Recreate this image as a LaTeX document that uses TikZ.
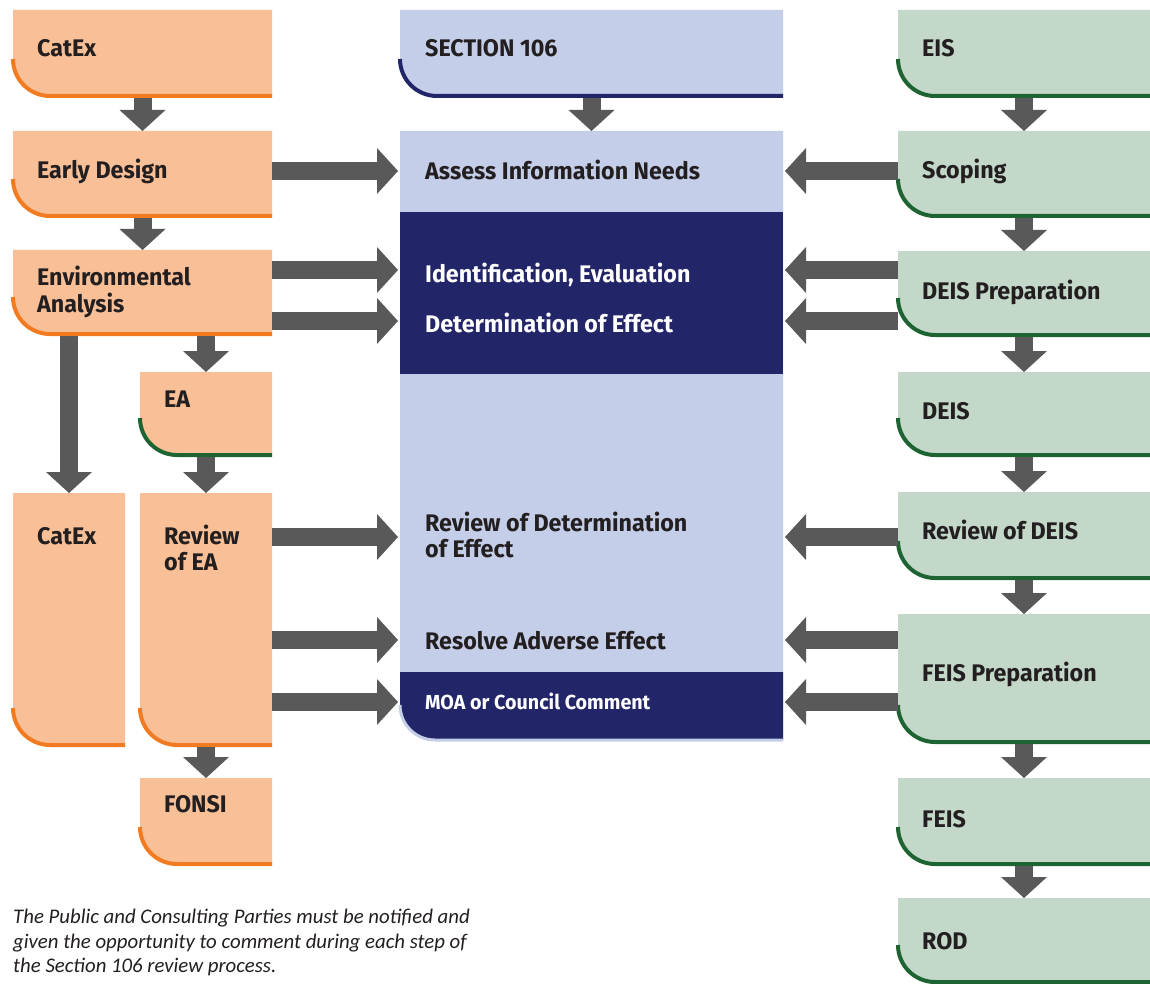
\documentclass[tikz,border=0pt]{standalone}
\usepackage{fontspec}
\newfontfamily\boxfont[FakeStretch=0.97]{Fira Sans}
\newfontfamily\notefont{Carlito}
\usetikzlibrary{arrows.meta}
\definecolor{orfill}{HTML}{F9C097}
\definecolor{orline}{HTML}{F27B22}
\definecolor{blfill}{HTML}{C5CEE8}
\definecolor{navy}{HTML}{222567}
\definecolor{grfill}{HTML}{C3D8C8}
\definecolor{grline}{HTML}{1E6432}
\definecolor{arrowgray}{HTML}{595959}
\definecolor{txt}{HTML}{231F20}
\newcommand\boxradius{37pt}
\tikzset{
  boxshape/.style={anchor=north west, inner sep=0pt, outer sep=0pt, draw=none},
  accent/.style={line width=4pt},
  flow/.style={draw=arrowgray, line width=18pt, -{Triangle[width=46pt,length=21pt,line width=0pt]}},
  lbl/.style={anchor=base west, inner sep=0pt, text=txt, font=\boxfont\bfseries\fontsize{24}{26}\selectfont},
  wlbl/.style={lbl, text=white},
  moalbl/.style={lbl, text=white, font=\boxfont\bfseries\fontsize{20.3}{22}\selectfont},
  note/.style={anchor=north west, inner sep=0pt, align=left, text=txt, font=\notefont\itshape\fontsize{20.8}{24.5}\selectfont},
}
% #1 name, #2 x, #3 y, #4 width, #5 height, #6 fill, #7 accent colour
\newcommand\stagebox[7]{%
  \node[boxshape, minimum width=#4pt, minimum height=#5pt] (#1) at (#2,#3) {};
  \fill[#6] (#1.north west) -- (#1.north east) -- (#1.south east)
    -- ([xshift=\boxradius]#1.south west) arc[start angle=270, end angle=180, radius=\boxradius] -- cycle;
  \draw[accent, #7] ([yshift=\boxradius]#1.south west) arc[start angle=180, end angle=270, radius=\boxradius] -- (#1.south east);
}
\newcommand\twolines[2]{\begin{tabular}[t]{@{}l@{}}#1\\#2\end{tabular}}
\begin{document}
\begin{tikzpicture}[x=1pt, y=-1pt]
\useasboundingbox[fill=white] (0,0) rectangle (1150,984);

% ---- left column
\stagebox{catex1}{13}{10}{259}{86}{orfill}{orline}
\stagebox{early}{13}{131}{259}{85}{orfill}{orline}
\stagebox{env}{13}{250}{259}{84}{orfill}{orline}
\stagebox{ea}{140}{372}{132}{83}{orfill}{grline}
\stagebox{catex2}{13}{493}{112}{252}{orfill}{orline}
\stagebox{revea}{140}{493}{132}{252}{orfill}{orline}
\stagebox{fonsi}{140}{778}{132}{86}{orfill}{orline}

% ---- centre column
\stagebox{sec106}{400}{10}{383}{86}{blfill}{navy}
\node[boxshape, minimum width=383pt, minimum height=609pt] (col) at (400,131) {};
\fill[blfill] (col.north west) -- (col.north east) -- (col.south east)
  -- ([xshift=35pt]col.south west) arc[start angle=270, end angle=180, radius=35pt] -- cycle;
\node[boxshape, fill=navy, minimum width=383pt, minimum height=162pt] (idband) at (400,212) {};
\node[boxshape, minimum width=383pt, minimum height=68pt] (moaband) at (400,672) {};
\fill[navy] (moaband.north west) -- (moaband.north east) -- (moaband.south east)
  -- ([xshift=35pt]moaband.south west) arc[start angle=270, end angle=180, radius=35pt] -- cycle;
\draw[blfill, line width=3pt] ([yshift=35pt]moaband.south west) arc[start angle=180, end angle=270, radius=35pt] -- (moaband.south east);

% ---- right column
\stagebox{eis}{898}{10}{252}{86}{grfill}{grline}
\stagebox{scoping}{898}{131}{252}{85}{grfill}{grline}
\stagebox{deisprep}{898}{251}{252}{84}{grfill}{grline}
\stagebox{deis}{898}{372}{252}{83}{grfill}{grline}
\stagebox{revdeis}{898}{492}{252}{86}{grfill}{grline}
\stagebox{feisprep}{898}{614}{252}{128}{grfill}{grline}
\stagebox{feis}{898}{778}{252}{86}{grfill}{grline}
\stagebox{rod}{898}{898}{252}{84}{grfill}{grline}

% ---- labels
\node[lbl] (catex1-t) at (37,57) {CatEx};
\node[lbl] (early-t) at (37,179) {Early Design};
\node[lbl] (env-t) at (37,285) {\twolines{Environmental}{Analysis}};
\node[lbl] (ea-t) at (164,407) {EA};
\node[lbl] (catex2-t) at (37,544) {CatEx};
\node[lbl] (revea-t) at (164,544) {\twolines{Review}{of EA}};
\node[lbl] (fonsi-t) at (164,812) {FONSI};

\node[lbl] (sec106-t) at (425,57) {SECTION 106};
\node[lbl] (assess-t) at (425,180) {Assess Information Needs};
\node[wlbl] (ident-t) at (425,282) {Identification, Evaluation};
\node[wlbl] (determ-t) at (425,332) {Determination of Effect};
\node[lbl] (revdet-t) at (425,531) {\twolines{Review of Determination}{of Effect}};
\node[lbl] (resolve-t) at (425,649) {Resolve Adverse Effect};
\node[moalbl] (moa-t) at (425,709) {MOA or Council Comment};

\node[lbl] (eis-t) at (922,57) {EIS};
\node[lbl] (scoping-t) at (922,179) {Scoping};
\node[lbl] (deisprep-t) at (922,299) {DEIS Preparation};
\node[lbl] (deis-t) at (922,419) {DEIS};
\node[lbl] (revdeis-t) at (922,539) {Review of DEIS};
\node[lbl] (feisprep-t) at (922,681) {FEIS Preparation};
\node[lbl] (feis-t) at (922,827) {FEIS};
\node[lbl] (rod-t) at (922,949) {ROD};

\node[note] (note) at (13,909) {The Public and Consulting Parties must be notified and\\given the opportunity to comment during each step of\\the Section 106 review process.};

% ---- vertical connectors
\draw[flow, shorten <=2pt] (catex1.south) -- (early.north);
\draw[flow, shorten <=2pt] (early.south) -- (env.north);
\draw[flow, shorten <=2pt] (env.south -| ea.north) -- (ea.north);
\draw[flow, shorten <=2pt] (env.south -| catex2.north) -- (catex2.north);
\draw[flow, shorten <=2pt] (ea.south) -- (revea.north);
\draw[flow, shorten <=2pt] (revea.south) -- (fonsi.north);
\draw[flow, shorten <=2pt] (sec106.south) -- (col.north);
\draw[flow, shorten <=2pt] (eis.south) -- (scoping.north);
\draw[flow, shorten <=2pt] (scoping.south) -- (deisprep.north);
\draw[flow, shorten <=2pt] (deisprep.south) -- (deis.north);
\draw[flow, shorten <=2pt] (deis.south) -- (revdeis.north);
\draw[flow, shorten <=2pt] (revdeis.south) -- (feisprep.north);
\draw[flow, shorten <=2pt] (feisprep.south) -- (feis.north);
\draw[flow, shorten <=2pt] (feis.south) -- (rod.north);

% ---- horizontal connectors
\coordinate (r1) at (0,171);
\coordinate (r2) at (0,270);
\coordinate (r3) at (0,321);
\coordinate (r4) at (0,537);
\coordinate (r5) at (0,640);
\coordinate (r6) at (0,702);
\draw[flow, shorten >=2pt] (early.east |- r1) -- (col.west |- r1);
\draw[flow, shorten >=2pt] (env.east |- r2) -- (col.west |- r2);
\draw[flow, shorten >=2pt] (env.east |- r3) -- (col.west |- r3);
\draw[flow, shorten >=2pt] (revea.east |- r4) -- (col.west |- r4);
\draw[flow, shorten >=2pt] (revea.east |- r5) -- (col.west |- r5);
\draw[flow, shorten >=2pt] (revea.east |- r6) -- (col.west |- r6);
\draw[flow, shorten >=2pt] (scoping.west |- r1) -- (col.east |- r1);
\draw[flow, shorten >=2pt] (deisprep.west |- r2) -- (col.east |- r2);
\draw[flow, shorten >=2pt] (deisprep.west |- r3) -- (col.east |- r3);
\draw[flow, shorten >=2pt] (revdeis.west |- r4) -- (col.east |- r4);
\draw[flow, shorten >=2pt] (feisprep.west |- r5) -- (col.east |- r5);
\draw[flow, shorten >=2pt] (feisprep.west |- r6) -- (col.east |- r6);
\end{tikzpicture}
\end{document}
